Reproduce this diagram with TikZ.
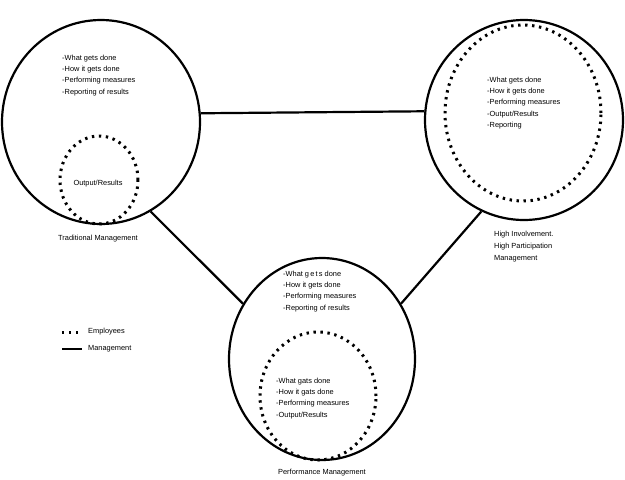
\documentclass[tikz,border=0pt]{standalone}
\usepackage{fontspec}
\setmainfont{Liberation Sans}
\usetikzlibrary{shapes.geometric}

\tikzset{
  mgmt/.style={ellipse,draw,line width=2.2pt,inner sep=0pt},
  empl/.style={ellipse,draw,line width=3pt,dash pattern=on 2.4pt off 4.6pt,inner sep=0pt},
  dotline/.style={line width=3pt,dash pattern=on 2.4pt off 4.6pt},
  link/.style={line width=2.2pt},
  items/.style={align=left,anchor=north west,inner sep=0pt,font=\fontsize{7.4}{11.2}\selectfont},
  caption/.style={inner sep=0pt,font=\fontsize{7.4}{12}\selectfont},
}

\begin{document}
\begin{tikzpicture}[x=1pt,y=-1pt]
  \useasboundingbox (0,0) rectangle (625,480);
  % traditional
  \node[mgmt,minimum width=198pt,minimum height=204pt] (trad) at (101,122) {};
  \node[empl,minimum width=78pt,minimum height=88pt] (tradE) at (99,180) {};
  \node[items] (tradL) at (62,55) {-What gets done\\-How it gets done\\-Performing measures\\-Reporting of results};
  \node[caption] (tradO) at (98,184) {Output/Results};
  \node[caption] (tradC) at (98,239) {Traditional Management};
  % high involvement
  \node[mgmt,minimum width=198pt,minimum height=200pt] (high) at (524,120) {};
  \node[empl,minimum width=156pt,minimum height=176pt] (highE) at (523,113) {};
  \node[items] (highL) at (487,77) {-What gets done\\-How it gets done\\-Performing measures\\-Output/Results\\-Reporting};
  \node[caption,align=left,anchor=north west] (highC) at (494,231) {High Involvement.\\High Participation\\Management};
  % performance
  \node[mgmt,minimum width=186pt,minimum height=202pt] (perf) at (322,359) {};
  \node[empl,minimum width=116pt,minimum height=128pt] (perfE) at (318,396) {};
  \node[items] (perfL) at (283,271) {-What g\,e\,t\,s done\\-How it gets done\\-Performing measures\\-Reporting of results};
  \node[items] (perfI) at (276,378) {-What gats done\\-How it gats done\\-Performing measures\\-Output/Results};
  \node[caption] (perfC) at (322,473) {Performance Management};
  % links
  \draw[link] (trad.5) -- (high.175);
  \draw[link] (trad.-61) -- (perf.145);
  \draw[link] (high.-115) -- (perf.35);
  % legend
  \coordinate (e1) at (62,332);
  \coordinate (e2) at (82,332);
  \coordinate (m1) at (62,349);
  \coordinate (m2) at (82,349);
  \draw[dotline] (e1) -- (e2);
  \draw[link] (m1) -- (m2);
  \node[caption,anchor=west] (eL) at (88,332) {Employees};
  \node[caption,anchor=west] (mL) at (88,349) {Management};
\end{tikzpicture}
\end{document}
